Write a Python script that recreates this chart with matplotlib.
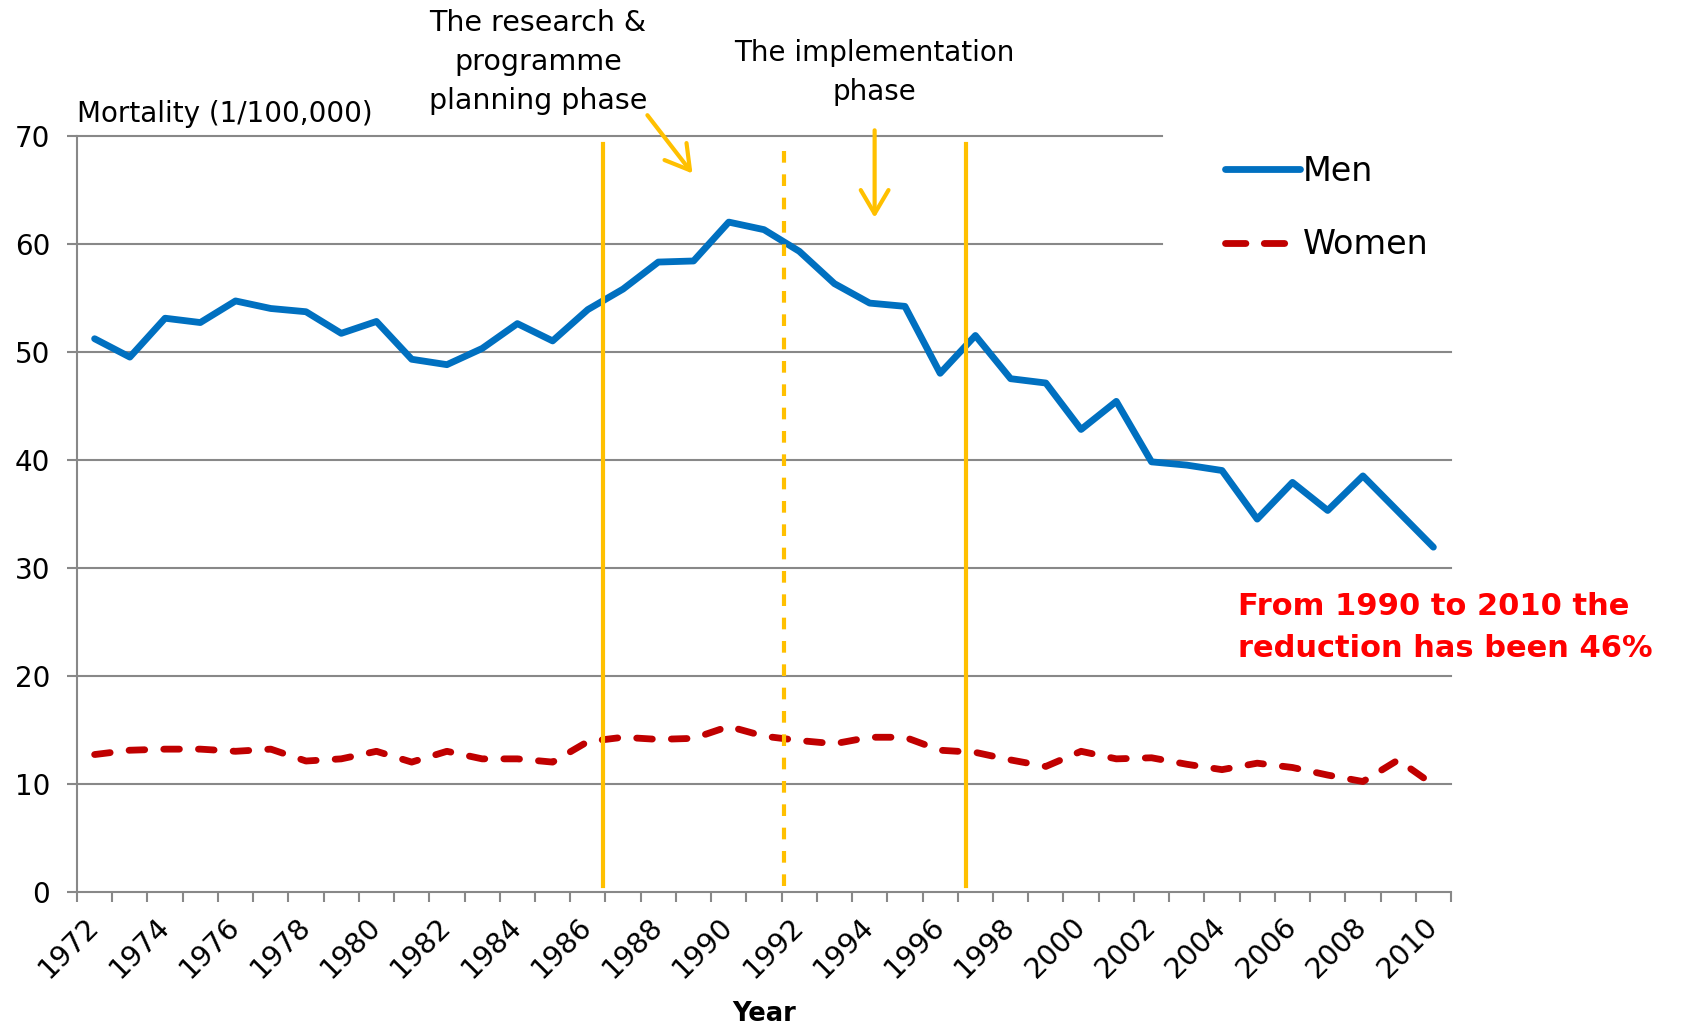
import matplotlib
matplotlib.use('Agg')
import matplotlib.pyplot as plt
from matplotlib.lines import Line2D
import numpy as np

years = list(range(1972, 2011))
men = [51.2, 49.5, 53.1, 52.7, 54.7, 54.0, 53.7, 51.7, 52.8, 49.3,
       48.8, 50.3, 52.6, 51.0, 53.9, 55.8, 58.3, 58.4, 62.0, 61.3,
       59.3, 56.3, 54.5, 54.2, 48.0, 51.5, 47.5, 47.1, 42.8, 45.4,
       39.8, 39.5, 39.0, 34.5, 37.9, 35.3, 38.5, 35.2, 31.9]
women = [12.7, 13.1, 13.2, 13.2, 13.0, 13.2, 12.1, 12.3, 13.0, 12.0,
         13.0, 12.3, 12.3, 12.0, 13.9, 14.3, 14.1, 14.2, 15.3, 14.4,
         14.0, 13.7, 14.3, 14.3, 13.1, 12.9, 12.2, 11.6, 13.0, 12.3,
         12.4, 11.8, 11.3, 11.9, 11.5, 10.8, 10.2, 12.2, 9.9]
y_ticks = [0, 10, 20, 30, 40, 50, 60, 70]
x_labels = [str(y) for y in years[::2]]

phase_lines = [1986.42, 1991.56, 1996.74]
phase_styles = ['solid', 'dashed', 'solid']

GRAY = '#888888'
ORANGE = '#FFC000'
BLUE = '#0070C0'
DARKRED = '#C00000'
W, H = 1682, 1031

fig = plt.figure(figsize=(W / 100, H / 100), dpi=100)
ax = fig.add_axes([77 / W, 1 - 891.7 / H, (1451 - 77) / W, (891.7 - 135.7) / H])
ax.set_xlim(1971.5, 2010.5)
ax.set_ylim(0, 70)

# gridlines (top two stop short because of the legend)
for yv in y_ticks[1:]:
    xend = 2002.3 if yv >= 60 else 2010.5
    ax.plot([1971.5, xend], [yv, yv], color=GRAY, lw=1.5, zorder=1, clip_on=False)

for s in ['top', 'right']:
    ax.spines[s].set_visible(False)
for s in ['left', 'bottom']:
    ax.spines[s].set_color(GRAY)
    ax.spines[s].set_linewidth(1.5)

ax.set_yticks(y_ticks)
ax.tick_params(axis='y', length=7.2, width=1.5, color=GRAY, labelsize=20, pad=12)

ax.set_xticks(years[::2])
ax.set_xticklabels(x_labels)
ax.set_xticks(np.arange(1971.5, 2011, 1.0), minor=True)
ax.tick_params(axis='x', which='major', length=0, labelsize=20.5, pad=22)
ax.tick_params(axis='x', which='minor', length=7.2, width=1.5, color=GRAY)
for lab in ax.get_xticklabels():
    lab.set_rotation(45)
    lab.set_ha('right')
    lab.set_va('center')
    lab.set_rotation_mode('anchor')

ax.plot(years, men, color=BLUE, lw=4.9, solid_capstyle='round',
        solid_joinstyle='round', zorder=3)
ax.plot(years, women, color=DARKRED, lw=4.9, dashes=(2.3, 2.8),
        dash_capstyle='round', dash_joinstyle='round', zorder=3)

for xv, st in zip(phase_lines, phase_styles):
    kw = dict(color=ORANGE, lw=3, zorder=4)
    if st == 'dashed':
        kw['dashes'] = (2.8, 2.8)
    ax.plot([xv, xv], [0.5, 69.2], **kw)

arrow_kw = dict(arrowstyle='->,head_length=0.85,head_width=0.5', color=ORANGE,
                lw=3, mutation_scale=20, shrinkA=0, shrinkB=0)
ax.annotate('', xy=(1988.97, 66.5), xytext=(1987.69, 71.9),
            arrowprops=arrow_kw, annotation_clip=False)
ax.annotate('', xy=(1994.14, 62.4), xytext=(1994.14, 70.5),
            arrowprops=arrow_kw, annotation_clip=False)

fig.text(538 / W, 1 - 62 / H, 'The research &\nprogramme\nplanning phase',
         ha='center', va='center', fontsize=20.5, color='black', linespacing=1.48)
fig.text(874.5 / W, 1 - 72.5 / H, 'The implementation\nphase',
         ha='center', va='center', fontsize=20, color='black', linespacing=1.48)
fig.text(77 / W, 1 - 114 / H, 'Mortality (1/100,000)', ha='left', va='center',
         fontsize=20)
fig.text(1238 / W, 1 - 627.5 / H, 'From 1990 to 2010 the\nreduction has been 46%',
         ha='left', va='center', fontsize=22, fontweight='bold', color='#FF0000',
         linespacing=1.55)
fig.text(764 / W, 1 - 1014 / H, 'Year', ha='center', va='center', fontsize=18.5,
         fontweight='bold')

handles = [
    Line2D([0], [0], color=BLUE, lw=4.9, solid_capstyle='round'),
    Line2D([0], [0], color=DARKRED, lw=4.9, dashes=(3.0, 2.7), dash_capstyle='round'),
]
ax.legend(handles, ['Men', 'Women'], loc='upper left',
          bbox_to_anchor=(1225 / W, 1 - 154.7 / H),
          bbox_transform=fig.transFigure, frameon=False, fontsize=24,
          handlelength=2.24, handletextpad=0.1, labelspacing=1.22,
          borderpad=0, borderaxespad=0)

fig.savefig('out.png', dpi=100)
